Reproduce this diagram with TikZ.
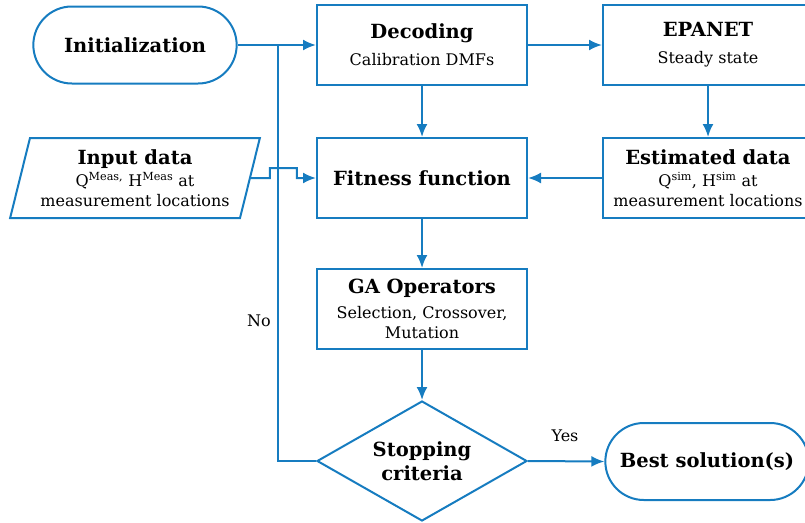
\documentclass[tikz,border=0pt]{standalone}
\usepackage{fontspec}
\setmainfont{DejaVu Serif}
\usetikzlibrary{shapes.misc,shapes.geometric,arrows.meta}
\definecolor{flowblue}{RGB}{22,124,192}
\newcommand{\ttlfont}{\fontsize{19.5}{24}\selectfont\bfseries}
\newcommand{\subfont}{\fontsize{16}{20}\selectfont}
\newcommand{\ttl}[1]{{\ttlfont #1}}
\begin{document}
\begin{tikzpicture}[x=1pt,y=-1pt,
  line width=2pt,
  every node/.style={font=\subfont, text=black},
  box/.style={draw=flowblue, rectangle, minimum width=210pt, minimum height=80pt, align=center, inner sep=2pt},
  terminal/.style={draw=flowblue, rounded rectangle, minimum width=210pt, minimum height=77pt, align=center, font=\ttlfont},
  iodata/.style={draw=flowblue, trapezium, trapezium left angle=72.6, trapezium right angle=107.4,
    trapezium stretches=true, minimum width=250pt, minimum height=80pt, align=center, inner sep=0pt},
  decision/.style={draw=flowblue, diamond, aspect=1.75, minimum width=210pt, minimum height=120pt, align=center, inner sep=0pt, font=\ttlfont},
  flow/.style={draw=flowblue, -{Latex[length=13pt,width=11pt]}},
  plain/.style={draw=flowblue},
  tag/.style={font=\subfont}
]
\useasboundingbox (0,0) rectangle (805,522);
\clip (0,0) rectangle (805,522);

% process blocks
\node[terminal] (init) at (135,45) {Initialization};
\node[box] (dec) at (422,45) {\ttl{Decoding}\\[7pt]Calibration DMFs};
\node[box] (epa) at (708,45) {\ttl{EPANET}\\[7pt]Steady state};
\node[iodata] (inp) at (135,178) {\ttl{Input data}\\[2pt]Q\textsuperscript{Meas,} H\textsuperscript{Meas} at\\measurement locations};
\node[box, font=\ttlfont] (fit) at (422,178) {Fitness function};
\node[box] (est) at (708,178) {\ttl{Estimated data}\\[2pt]Q\textsuperscript{sim}, H\textsuperscript{sim} at\\measurement locations};
\node[box] (ga) at (422,309) {\ttl{GA Operators}\\[5pt]Selection, Crossover,\\Mutation};
\node[decision] (stop) at (422,461) {Stopping\\criteria};
\node[terminal] (best) at (707,461.5) {Best solution(s)};

% junction where the loop joins the initialization line
\coordinate (j) at (278,45);

% connectors
\draw[flow] (init.east) -- (dec.west);
\draw[flow] (dec.east) -- (epa.west);
\draw[flow] (dec.south) -- (fit.north);
\draw[flow] (epa.south) -- (est.north);
\draw[flow] (est.west) -- (fit.east);
\draw[plain] (stop.west) -| (j);
\draw[flow] (inp.east) -- ++(19,0) -- ++(0,-10) -- ++(27,0) -- ++(0,10) -- (fit.west);
\draw[flow] (fit.south) -- (ga.north);
\draw[flow] (ga.south) -- (stop.north);
\draw[flow] (stop.east) -- (best.west);

% branch labels
\node[tag] (no) at (259,321) {No};
\node[tag] (yes) at (565,436) {Yes};
\end{tikzpicture}
\end{document}
